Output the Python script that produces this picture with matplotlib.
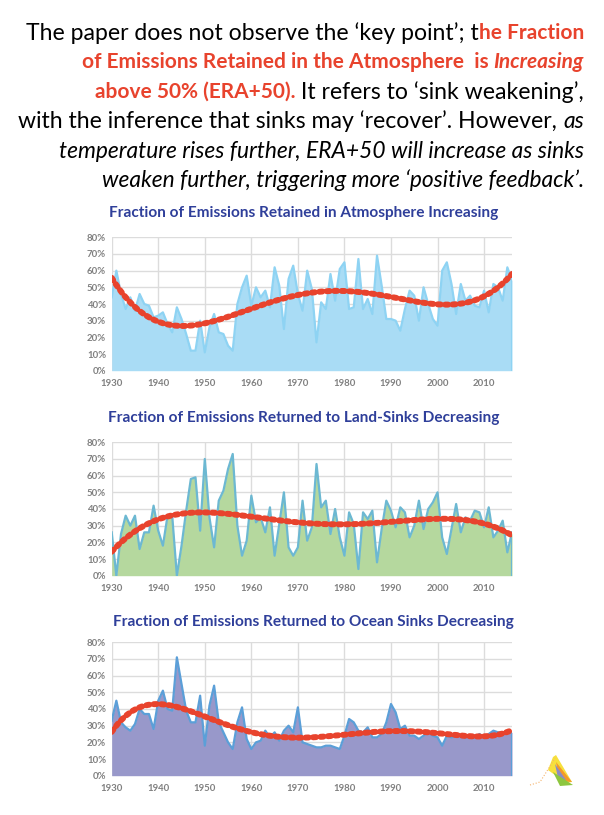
import numpy as np
import matplotlib
matplotlib.use('Agg')
import matplotlib.pyplot as plt
from matplotlib.patches import Polygon

W, H = 604, 815

# Datos (fraccion en %, 1930-2016)
years = np.arange(1930, 2017)

atmosphere = [44, 60, 46, 37, 44, 36, 46, 40, 39, 32,
              33, 35, 28, 23, 38, 31, 22, 12, 12, 30,
              11, 26, 34, 23, 22, 15, 12, 40, 50, 57,
              39, 50, 44, 48, 38, 62, 51, 25, 55, 63,
              46, 36, 60, 49, 17, 41, 37, 58, 42, 61,
              65, 37, 38, 67, 37, 43, 34, 69, 51, 31,
              31, 30, 24, 37, 48, 45, 30, 50, 40, 31,
              27, 60, 65, 52, 34, 52, 42, 45, 39, 38,
              48, 35, 52, 50, 42, 62, 54]

land = [26, 0, 25, 36, 30, 36, 16, 26, 26, 42,
        27, 18, 36, 36, 0, 18, 39, 58, 59, 27,
        70, 35, 17, 45, 51, 64, 73, 30, 12, 21,
        48, 32, 35, 26, 41, 12, 31, 50, 17, 12,
        17, 45, 21, 29, 67, 41, 45, 25, 40, 23,
        12, 38, 31, 4, 38, 34, 39, 8, 28, 45,
        39, 29, 41, 38, 23, 30, 45, 28, 40, 44,
        50, 23, 13, 28, 43, 26, 35, 33, 39, 38,
        29, 41, 23, 27, 33, 14, 26]

ocean = [33, 45, 32, 29, 27, 31, 40, 37, 37, 28,
         45, 51, 40, 39, 71, 55, 39, 32, 32, 48,
         18, 42, 54, 32, 26, 20, 16, 32, 41, 22,
         16, 20, 21, 27, 23, 26, 21, 27, 30, 26,
         41, 20, 19, 18, 17, 17, 18, 18, 17, 16,
         24, 34, 32, 27, 26, 29, 23, 23, 25, 32,
         43, 38, 28, 30, 24, 24, 22, 24, 26, 24,
         23, 18, 24, 23, 24, 24, 23, 24, 23, 25,
         23, 25, 27, 26, 26, 26, 26]

titles = ['Fraction of Emissions Retained in Atmosphere Increasing',
          'Fraction of Emissions Returned to Land-Sinks Decreasing',
          'Fraction of Emissions Returned to Ocean Sinks Decreasing']

# grado del polinomio de tendencia de cada grafico
degrees = [4, 4, 5]

RED = '#E8432D'
BLUE_TITLE = '#2F3F9A'
TICK = '#808080'
GRID = '#DCDCDC'

fig = plt.figure(figsize=(W / 100, H / 100), dpi=100)
fig.patch.set_facecolor('white')
renderer = fig.canvas.get_renderer()

# Texto de cabecera (lineas alineadas a la derecha con estilos mezclados)
FAM = 'Lato'
black = dict(color='black', fontsize=16.6, family=FAM)
red = dict(color=RED, fontsize=15.0, family=FAM, fontweight='bold')
red_it = dict(color=RED, fontsize=15.0, family=FAM, fontweight='bold', style='italic')
black_it = dict(color='black', fontsize=16.4, family=FAM, style='italic')

lines = [
    (33, [("The paper does not observe the \u2018key point\u2019; t", black), ("he Fraction", red)]),
    (62, [("of Emissions Retained in the Atmosphere  is ", red), ("Increasing", red_it)]),
    (92, [("above 50% (ERA+50).", red), (" It refers to \u2018sink weakening\u2019,", black)]),
    (121, [("with the inference that sinks may \u2018recover\u2019. However, ", black), ("as", black_it)]),
    (151, [("temperature rises further, ERA+50 will increase as sinks", black_it)]),
    (180, [("weaken further, triggering more \u2018positive feedback\u2019.", black_it)]),
]

def rich_line(y, pieces, right=584):
    x = right
    for txt, st in reversed(pieces):
        t = fig.text(x / W, 1 - y / H, txt, ha='right', va='center', **st)
        bb = t.get_window_extent(renderer)
        x -= bb.width

for y, pieces in lines:
    rich_line(y, pieces)

# Graficos
series = [atmosphere, land, ocean]
fills = ['#A9DCF5', '#B5D89E', '#9898CA']
edges = ['#8ED3F3', '#6CB8D2', '#5B9FD8']
tops = [237.3, 442.3, 642.3]
title_y = [213, 418, 622]
title_x = [304, 304, 313]

left, right = 111.7, 512.0
xs = np.linspace(1930, 2016, 400)

for i in range(3):
    vals = np.array(series[i]) / 100.0
    ax = fig.add_axes([left / W, 1 - (tops[i] + 133.4) / H, (right - left) / W, 133.4 / H])
    ax.fill_between(years, 0, vals, color=fills[i], lw=0, zorder=2)
    ax.plot(years, vals, color=edges[i], lw=1.6, zorder=3)
    ax.vlines(2016, 0, vals[-1], color=edges[i], lw=1.6, zorder=3)

    # linea de tendencia polinomica
    xc = (years - 1973) / 43.0
    coef = np.polyfit(xc, vals, degrees[i])
    trend = np.polyval(coef, (xs - 1973) / 43.0)
    ax.plot(xs, trend, color=RED, lw=4.3, linestyle=(0, (0.5, 0.75)),
            dash_capstyle='round', zorder=4)

    ax.set_xlim(1930, 2016)
    ax.set_ylim(0, 0.8)
    ax.set_xticks(np.arange(1930, 2011, 10))
    ax.set_yticks(np.arange(0, 0.81, 0.1))
    ax.set_yticklabels([f'{int(round(v * 100))}%' for v in np.arange(0, 0.81, 0.1)])
    for s in ax.spines.values():
        s.set_visible(False)
    ax.grid(True, color=GRID, lw=1.0, zorder=0)
    ax.set_axisbelow(True)
    ax.tick_params(length=0, labelsize=6.9, labelcolor=TICK, pad=4)
    for lab in ax.get_xticklabels() + ax.get_yticklabels():
        lab.set_fontweight('bold')
        lab.set_family('Lato')
    ax.tick_params(axis='x', pad=6)

    fig.text(title_x[i] / W, 1 - title_y[i] / H, titles[i], ha='center', va='center',
             color=BLUE_TITLE, fontsize=11.1, fontweight='bold', family='Lato')

# Logo pequeno abajo a la derecha
def fp(pts):
    return [(x / W, 1 - y / H) for x, y in pts]

fig.patches.append(Polygon(fp([(548, 770), (553, 757), (556, 755), (572, 782), (566, 783)]),
                           closed=True, transform=fig.transFigure, color='#F7E03C', lw=0))
fig.patches.append(Polygon(fp([(556, 762), (572, 782), (560, 781)]),
                           closed=True, transform=fig.transFigure, color='#F39A2A', lw=0))
fig.patches.append(Polygon(fp([(555, 764), (566, 780), (558, 778)]),
                           closed=True, transform=fig.transFigure, color='#8C8CC4', lw=0))
fig.patches.append(Polygon(fp([(553, 772), (573, 785), (560, 786)]),
                           closed=True, transform=fig.transFigure, color='#8DC63F', lw=0))
fig.lines.append(plt.Line2D([530 / W, 540 / W, 547 / W, 555 / W],
                            [1 - 785 / H, 1 - 782 / H, 1 - 771 / H, 1 - 758 / H],
                            transform=fig.transFigure, color='#F5B26B', lw=0.8, ls=':'))

fig.savefig('out.png', dpi=100)
